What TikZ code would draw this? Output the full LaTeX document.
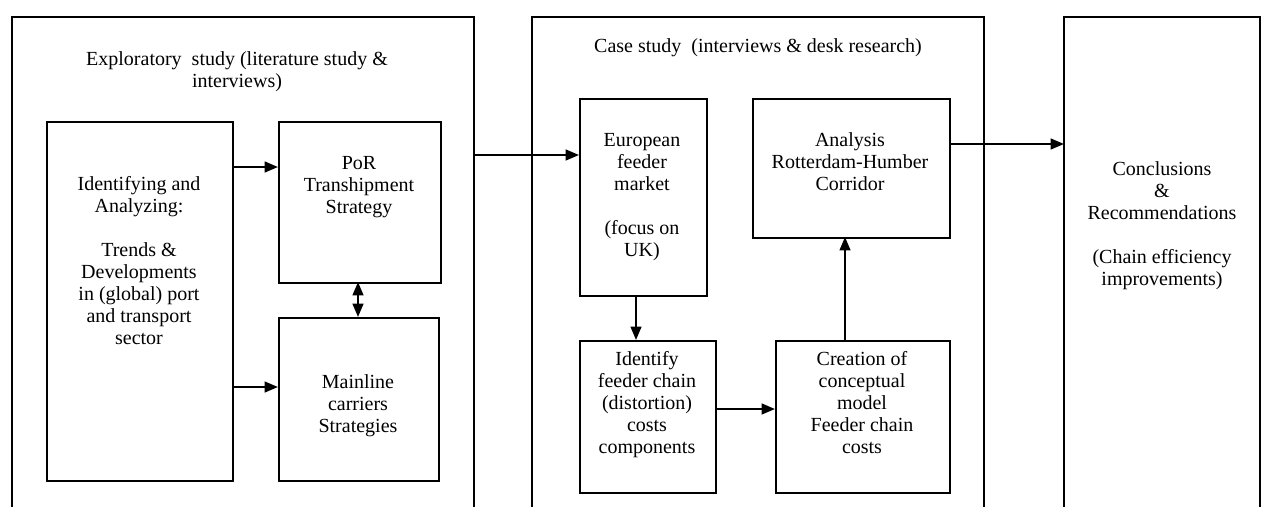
\documentclass[tikz,border=0pt]{standalone}
\usepackage{fontspec}
\setmainfont{Liberation Serif}
\usetikzlibrary{arrows.meta}
\begin{document}
\begin{tikzpicture}[x=0.75pt,y=-0.75pt,
  frame/.style={draw=black,line width=1.2pt},
  box/.style={draw=black,line width=1.2pt,inner sep=0pt,anchor=north west},
  txt/.style={align=center,inner sep=0pt,anchor=north,font=\fontsize{15}{16.5}\selectfont},
  arr/.style={line width=1.6pt,-{Triangle[length=10pt,width=8pt]}},
  darr/.style={line width=1.6pt,{Triangle[length=10pt,width=8pt]}-{Triangle[length=10pt,width=8pt]}}]
\useasboundingbox (0,0) rectangle (1261,507);
% outer open frames
\coordinate (f1bl) at (12,507); \coordinate (f1br) at (474,507);
\coordinate (f2bl) at (532,507); \coordinate (f2br) at (984,507);
\coordinate (f3bl) at (1064,507); \coordinate (f3br) at (1260,507);
\draw[frame] (f1bl) |- (474,17) -- (f1br);
\draw[frame] (f2bl) |- (984,17) -- (f2br);
\draw[frame] (f3bl) |- (1260,17) -- (f3br);
% headings
\node[txt] (h1) at (237,49.6) {\strut Exploratory\ \ study (literature study \&\\ interviews)};
\node[txt] (h2) at (758,36.6) {\strut Case study\ \ (interviews \& desk research)};
% boxes in frame 1
\node[box,minimum width=186*0.75pt,minimum height=359*0.75pt] (idb) at (46,121) {};
\node[box,minimum width=162*0.75pt,minimum height=161*0.75pt] (por) at (278,121) {};
\node[box,minimum width=160*0.75pt,minimum height=163*0.75pt] (mlc) at (278,317) {};
\node[txt] at (139,174.6) {\strut Identifying and\\ Analyzing:\\[16.5pt] Trends \&\\ Developments\\ in (global) port\\ and transport\\ sector};
\node[txt] at (359,153.6) {\strut PoR\\ Transhipment\\ Strategy};
\node[txt] at (358,372.6) {\strut Mainline\\ carriers\\ Strategies};
% boxes in frame 2
\node[box,minimum width=127*0.75pt,minimum height=197*0.75pt] (eur) at (579,98) {};
\node[box,minimum width=197*0.75pt,minimum height=139*0.75pt] (ana) at (752,98) {};
\node[box,minimum width=136*0.75pt,minimum height=152*0.75pt] (idf) at (579,340) {};
\node[box,minimum width=174*0.75pt,minimum height=152*0.75pt] (cre) at (775,340) {};
\node[txt] at (642,130.6) {\strut European\\ feeder\\ market\\[16.5pt] (focus on\\ UK)};
\node[txt] at (850,130.6) {\strut Analysis\\ Rotterdam-Humber\\ Corridor};
\node[txt] at (647,349.6) {\strut Identify\\ feeder chain\\ (distortion)\\ costs\\ components};
\node[txt] at (862,349.6) {\strut Creation of\\ conceptual\\ model\\ Feeder chain\\ costs};
% frame 3 text
\node[txt] (concl) at (1162,159.6) {\strut Conclusions\\ \&\\ Recommendations\\[16.5pt] (Chain efficiency\\ improvements)};
% arrows
\draw[arr] (idb.east |- 0,167) -- (por.west |- 0,167);
\draw[arr] (idb.east |- 0,387) -- (mlc.west |- 0,387);
\draw[darr] (358,282) -- (358,317);
\draw[arr] (474,155) -- (eur.west |- 0,155);
\draw[arr] (636,295) -- (636,340);
\draw[arr] (idf.east |- 0,409) -- (cre.west |- 0,409);
\draw[arr] (845,340) -- (845,237);
\draw[arr] (ana.east |- 0,144) -- (1064,144);
\end{tikzpicture}
\end{document}
